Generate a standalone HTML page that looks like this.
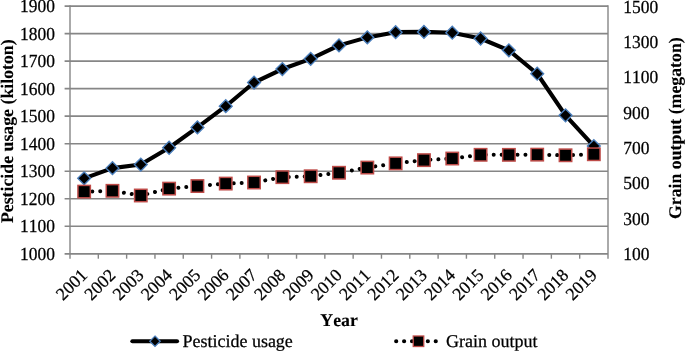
<!DOCTYPE html>
<html lang="en"><head><meta charset="utf-8"><title>Pesticide usage and grain output</title>
<style>
html,body{margin:0;padding:0;background:#fff;}
body{width:685px;height:351px;overflow:hidden;}
svg{display:block;will-change:transform;}
text{font-family:"Liberation Serif","Times New Roman",Times,serif;font-size:17.8px;fill:#000;font-kerning:none;text-rendering:geometricPrecision;stroke:#000;stroke-width:0.25px;}
.b{font-weight:bold;stroke-width:0.1px;}
</style></head><body>
<svg width="685" height="351" viewBox="0 0 685 351">
<rect x="0" y="0" width="685" height="351" fill="#ffffff"/>
<g stroke="#868686" stroke-width="1.4" fill="none">
<line x1="64.60" y1="253.80" x2="608.00" y2="253.80" stroke-width="1.65"/>
<line x1="64.60" y1="226.28" x2="608.00" y2="226.28" stroke-width="1.65"/>
<line x1="64.60" y1="198.76" x2="608.00" y2="198.76" stroke-width="1.65"/>
<line x1="64.60" y1="171.23" x2="608.00" y2="171.23" stroke-width="1.65"/>
<line x1="64.60" y1="143.71" x2="608.00" y2="143.71" stroke-width="1.65"/>
<line x1="64.60" y1="116.19" x2="608.00" y2="116.19" stroke-width="1.65"/>
<line x1="64.60" y1="88.67" x2="608.00" y2="88.67" stroke-width="1.65"/>
<line x1="64.60" y1="61.14" x2="608.00" y2="61.14" stroke-width="1.65"/>
<line x1="64.60" y1="33.62" x2="608.00" y2="33.62" stroke-width="1.65"/>
<line x1="64.60" y1="6.10" x2="608.00" y2="6.10" stroke-width="1.65"/>
<line x1="70.00" y1="5.30" x2="70.00" y2="258.70"/>
<line x1="608.00" y1="5.30" x2="608.00" y2="258.70"/>
<line x1="98.32" y1="253.70" x2="98.32" y2="258.70"/>
<line x1="126.63" y1="253.70" x2="126.63" y2="258.70"/>
<line x1="154.95" y1="253.70" x2="154.95" y2="258.70"/>
<line x1="183.26" y1="253.70" x2="183.26" y2="258.70"/>
<line x1="211.58" y1="253.70" x2="211.58" y2="258.70"/>
<line x1="239.89" y1="253.70" x2="239.89" y2="258.70"/>
<line x1="268.21" y1="253.70" x2="268.21" y2="258.70"/>
<line x1="296.53" y1="253.70" x2="296.53" y2="258.70"/>
<line x1="324.84" y1="253.70" x2="324.84" y2="258.70"/>
<line x1="353.16" y1="253.70" x2="353.16" y2="258.70"/>
<line x1="381.47" y1="253.70" x2="381.47" y2="258.70"/>
<line x1="409.79" y1="253.70" x2="409.79" y2="258.70"/>
<line x1="438.11" y1="253.70" x2="438.11" y2="258.70"/>
<line x1="466.42" y1="253.70" x2="466.42" y2="258.70"/>
<line x1="494.74" y1="253.70" x2="494.74" y2="258.70"/>
<line x1="523.05" y1="253.70" x2="523.05" y2="258.70"/>
<line x1="551.37" y1="253.70" x2="551.37" y2="258.70"/>
<line x1="579.68" y1="253.70" x2="579.68" y2="258.70"/>
</g>
<g text-anchor="end">
<text transform="translate(54.9,259.90) scale(0.98,1.035)">1000</text>
<text transform="translate(54.9,232.38) scale(0.98,1.035)">1100</text>
<text transform="translate(54.9,204.86) scale(0.98,1.035)">1200</text>
<text transform="translate(54.9,177.33) scale(0.98,1.035)">1300</text>
<text transform="translate(54.9,149.81) scale(0.98,1.035)">1400</text>
<text transform="translate(54.9,122.29) scale(0.98,1.035)">1500</text>
<text transform="translate(54.9,94.77) scale(0.98,1.035)">1600</text>
<text transform="translate(54.9,67.24) scale(0.98,1.035)">1700</text>
<text transform="translate(54.9,39.72) scale(0.98,1.035)">1800</text>
<text transform="translate(54.9,12.20) scale(0.98,1.035)">1900</text>
</g>
<g text-anchor="start">
<text transform="translate(623.3,260.20) scale(0.98,1.035)">100</text>
<text transform="translate(623.3,224.81) scale(0.98,1.035)">300</text>
<text transform="translate(623.3,189.43) scale(0.98,1.035)">500</text>
<text transform="translate(623.3,154.04) scale(0.98,1.035)">700</text>
<text transform="translate(623.3,118.66) scale(0.98,1.035)">900</text>
<text transform="translate(623.3,83.27) scale(0.98,1.035)">1100</text>
<text transform="translate(623.3,47.89) scale(0.98,1.035)">1300</text>
<text transform="translate(623.3,12.50) scale(0.98,1.035)">1500</text>
</g>
<g text-anchor="end">
<text transform="translate(88.26,276.10) rotate(-45)">2001</text>
<text transform="translate(116.57,276.10) rotate(-45)">2002</text>
<text transform="translate(144.89,276.10) rotate(-45)">2003</text>
<text transform="translate(173.21,276.10) rotate(-45)">2004</text>
<text transform="translate(201.52,276.10) rotate(-45)">2005</text>
<text transform="translate(229.84,276.10) rotate(-45)">2006</text>
<text transform="translate(258.15,276.10) rotate(-45)">2007</text>
<text transform="translate(286.47,276.10) rotate(-45)">2008</text>
<text transform="translate(314.78,276.10) rotate(-45)">2009</text>
<text transform="translate(343.10,276.10) rotate(-45)">2010</text>
<text transform="translate(371.42,276.10) rotate(-45)">2011</text>
<text transform="translate(399.73,276.10) rotate(-45)">2012</text>
<text transform="translate(428.05,276.10) rotate(-45)">2013</text>
<text transform="translate(456.36,276.10) rotate(-45)">2014</text>
<text transform="translate(484.68,276.10) rotate(-45)">2015</text>
<text transform="translate(512.99,276.10) rotate(-45)">2016</text>
<text transform="translate(541.31,276.10) rotate(-45)">2017</text>
<text transform="translate(569.63,276.10) rotate(-45)">2018</text>
<text transform="translate(597.94,276.10) rotate(-45)">2019</text>
</g>
<text class="b" text-anchor="middle" transform="translate(12.5,131.2) rotate(-90)">Pesticide usage (kiloton)</text>
<text class="b" text-anchor="middle" transform="translate(681,128.2) rotate(-90)">Grain output (megaton)</text>
<text class="b" text-anchor="middle" x="339.1" y="325.7">Year</text>
<path d="M84.16,178.31 L112.47,168.13 L140.79,164.55 L169.11,147.76 L197.42,127.40 L225.74,106.21 L254.05,82.54 L282.37,69.05 L310.68,58.87 L339.00,45.38 L367.32,37.40 L395.63,32.17 L423.95,31.90 L452.26,32.72 L480.58,38.50 L508.89,50.34 L537.21,73.73 L565.53,115.29 L593.84,146.11" fill="none" stroke="#000" stroke-width="4.1" stroke-linecap="round" stroke-linejoin="round"/>
<path d="M84.16,171.91 L90.56,178.31 L84.16,184.71 L77.76,178.31 Z" fill="#000" stroke="#4a7ebb" stroke-width="1.4"/>
<path d="M112.47,161.73 L118.87,168.13 L112.47,174.53 L106.07,168.13 Z" fill="#000" stroke="#4a7ebb" stroke-width="1.4"/>
<path d="M140.79,158.15 L147.19,164.55 L140.79,170.95 L134.39,164.55 Z" fill="#000" stroke="#4a7ebb" stroke-width="1.4"/>
<path d="M169.11,141.36 L175.51,147.76 L169.11,154.16 L162.71,147.76 Z" fill="#000" stroke="#4a7ebb" stroke-width="1.4"/>
<path d="M197.42,121.00 L203.82,127.40 L197.42,133.80 L191.02,127.40 Z" fill="#000" stroke="#4a7ebb" stroke-width="1.4"/>
<path d="M225.74,99.81 L232.14,106.21 L225.74,112.61 L219.34,106.21 Z" fill="#000" stroke="#4a7ebb" stroke-width="1.4"/>
<path d="M254.05,76.14 L260.45,82.54 L254.05,88.94 L247.65,82.54 Z" fill="#000" stroke="#4a7ebb" stroke-width="1.4"/>
<path d="M282.37,62.65 L288.77,69.05 L282.37,75.45 L275.97,69.05 Z" fill="#000" stroke="#4a7ebb" stroke-width="1.4"/>
<path d="M310.68,52.47 L317.08,58.87 L310.68,65.27 L304.28,58.87 Z" fill="#000" stroke="#4a7ebb" stroke-width="1.4"/>
<path d="M339.00,38.98 L345.40,45.38 L339.00,51.78 L332.60,45.38 Z" fill="#000" stroke="#4a7ebb" stroke-width="1.4"/>
<path d="M367.32,31.00 L373.72,37.40 L367.32,43.80 L360.92,37.40 Z" fill="#000" stroke="#4a7ebb" stroke-width="1.4"/>
<path d="M395.63,25.77 L402.03,32.17 L395.63,38.57 L389.23,32.17 Z" fill="#000" stroke="#4a7ebb" stroke-width="1.4"/>
<path d="M423.95,25.50 L430.35,31.90 L423.95,38.30 L417.55,31.90 Z" fill="#000" stroke="#4a7ebb" stroke-width="1.4"/>
<path d="M452.26,26.32 L458.66,32.72 L452.26,39.12 L445.86,32.72 Z" fill="#000" stroke="#4a7ebb" stroke-width="1.4"/>
<path d="M480.58,32.10 L486.98,38.50 L480.58,44.90 L474.18,38.50 Z" fill="#000" stroke="#4a7ebb" stroke-width="1.4"/>
<path d="M508.89,43.94 L515.29,50.34 L508.89,56.74 L502.49,50.34 Z" fill="#000" stroke="#4a7ebb" stroke-width="1.4"/>
<path d="M537.21,67.33 L543.61,73.73 L537.21,80.13 L530.81,73.73 Z" fill="#000" stroke="#4a7ebb" stroke-width="1.4"/>
<path d="M565.53,108.89 L571.93,115.29 L565.53,121.69 L559.13,115.29 Z" fill="#000" stroke="#4a7ebb" stroke-width="1.4"/>
<path d="M593.84,139.71 L600.24,146.11 L593.84,152.51 L587.44,146.11 Z" fill="#000" stroke="#4a7ebb" stroke-width="1.4"/>
<path d="M84.16,191.61 L112.47,190.82 L140.79,195.49 L169.11,188.62 L197.42,186.06 L225.74,183.58 L254.05,182.50 L282.37,177.16 L310.68,176.26 L339.00,172.77 L367.32,167.57 L395.63,163.38 L423.95,160.14 L452.26,158.53 L480.58,154.81 L508.89,154.85 L537.21,154.64 L565.53,155.29 L593.84,154.25" fill="none" stroke="#000" stroke-width="4.0" stroke-linecap="round" stroke-dasharray="0.01 7.928" stroke-dashoffset="-0.2"/>
<rect x="77.96" y="185.41" width="12.40" height="12.40" fill="#000" stroke="#be4b48" stroke-width="1.5"/>
<rect x="106.27" y="184.62" width="12.40" height="12.40" fill="#000" stroke="#be4b48" stroke-width="1.5"/>
<rect x="134.59" y="189.29" width="12.40" height="12.40" fill="#000" stroke="#be4b48" stroke-width="1.5"/>
<rect x="162.91" y="182.42" width="12.40" height="12.40" fill="#000" stroke="#be4b48" stroke-width="1.5"/>
<rect x="191.22" y="179.86" width="12.40" height="12.40" fill="#000" stroke="#be4b48" stroke-width="1.5"/>
<rect x="219.54" y="177.38" width="12.40" height="12.40" fill="#000" stroke="#be4b48" stroke-width="1.5"/>
<rect x="247.85" y="176.30" width="12.40" height="12.40" fill="#000" stroke="#be4b48" stroke-width="1.5"/>
<rect x="276.17" y="170.96" width="12.40" height="12.40" fill="#000" stroke="#be4b48" stroke-width="1.5"/>
<rect x="304.48" y="170.06" width="12.40" height="12.40" fill="#000" stroke="#be4b48" stroke-width="1.5"/>
<rect x="332.80" y="166.57" width="12.40" height="12.40" fill="#000" stroke="#be4b48" stroke-width="1.5"/>
<rect x="361.12" y="161.37" width="12.40" height="12.40" fill="#000" stroke="#be4b48" stroke-width="1.5"/>
<rect x="389.43" y="157.18" width="12.40" height="12.40" fill="#000" stroke="#be4b48" stroke-width="1.5"/>
<rect x="417.75" y="153.94" width="12.40" height="12.40" fill="#000" stroke="#be4b48" stroke-width="1.5"/>
<rect x="446.06" y="152.33" width="12.40" height="12.40" fill="#000" stroke="#be4b48" stroke-width="1.5"/>
<rect x="474.38" y="148.61" width="12.40" height="12.40" fill="#000" stroke="#be4b48" stroke-width="1.5"/>
<rect x="502.69" y="148.65" width="12.40" height="12.40" fill="#000" stroke="#be4b48" stroke-width="1.5"/>
<rect x="531.01" y="148.44" width="12.40" height="12.40" fill="#000" stroke="#be4b48" stroke-width="1.5"/>
<rect x="559.33" y="149.09" width="12.40" height="12.40" fill="#000" stroke="#be4b48" stroke-width="1.5"/>
<rect x="587.64" y="148.05" width="12.40" height="12.40" fill="#000" stroke="#be4b48" stroke-width="1.5"/>
<line x1="132.4" y1="341.25" x2="177" y2="341.25" stroke="#000" stroke-width="4.2" stroke-linecap="round"/>
<path d="M155,336.05 L160.20,341.25 L155,346.45 L149.80,341.25 Z" fill="#000" stroke="#4a7ebb" stroke-width="1.3"/>
<text x="182.4" y="347.0" style="font-size:18px">Pesticide usage</text>
<path d="M396.2,341.25 L436.2,341.25" fill="none" stroke="#000" stroke-width="4.2" stroke-linecap="round" stroke-dasharray="0.01 7.9"/>
<rect x="413.25" y="336" width="10.5" height="10.5" fill="#000" stroke="#be4b48" stroke-width="1.3"/>
<text x="446" y="347.0" style="font-size:18px">Grain output</text>
</svg></body></html>
